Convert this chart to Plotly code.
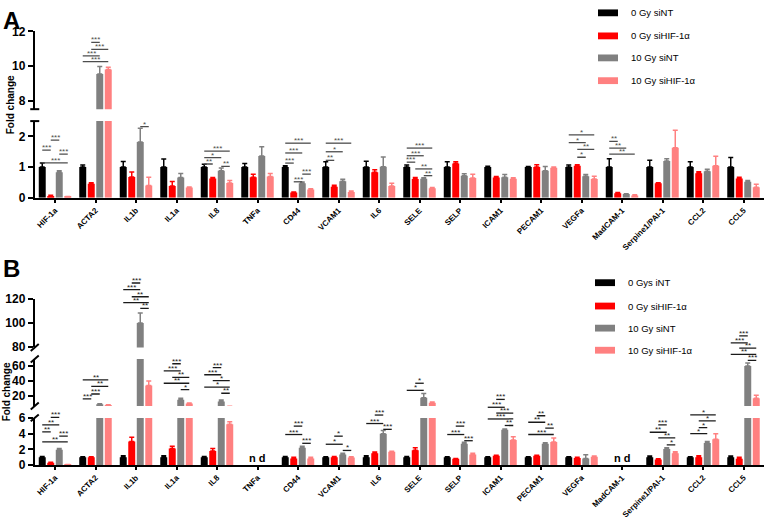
import plotly.graph_objects as go

# ---------------- data ----------------
categories = ["HIF-1a", "ACTA2", "IL1b", "IL1a", "IL8", "TNFa", "CD44", "VCAM1", "IL6",
              "SELE", "SELP", "ICAM1", "PECAM1", "VEGFa", "MadCAM-1", "Serpine1/PAI-1",
              "CCL2", "CCL5"]
legend_A = ["0 Gy siNT", "0 Gy siHIF-1α", "10 Gy siNT", "10 Gy siHIF-1α"]
legend_B = ["0 Gys iNT", "0 Gy siHIF-1α", "10 Gy siNT", "10 Gy siHIF-1α"]
colors = ["#000000", "#FF0000", "#808080", "#FF8080"]

# Panel A (fold change, mean and upper error)
A_0gy_siNT = [1.0] * 18
A_0gy_siNT_err = [0.13, 0.07, 0.18, 0.26, 0.09, 0.12, 0.04, 0.17, 0.19, 0.07, 0.17, 0.03, 0.02, 0.07, 0.27, 0.22, 0.17, 0.31]
A_0gy_siHIF = [0.06, 0.46, 0.68, 0.38, 0.63, 0.67, 0.17, 0.36, 0.83, 0.61, 1.12, 0.66, 1.0, 1.04, 0.15, 0.47, 0.8, 0.63]
A_0gy_siHIF_err = [0.02, 0.03, 0.16, 0.15, 0.03, 0.1, 0.02, 0.05, 0.08, 0.05, 0.05, 0.03, 0.08, 0.04, 0.02, 0.02, 0.05, 0.04]
A_10gy_siNT = [0.83, 9.53, 1.82, 0.66, 0.88, 1.36, 0.47, 0.54, 1.01, 0.62, 0.72, 0.67, 0.88, 0.7, 0.12, 1.2, 0.86, 0.52]
A_10gy_siNT_err = [0.05, 0.43, 0.45, 0.13, 0.09, 0.3, 0.04, 0.06, 0.32, 0.03, 0.06, 0.09, 0.14, 0.06, 0.01, 0.07, 0.07, 0.04]
A_10gy_siHIF = [0.03, 9.79, 0.4, 0.33, 0.48, 0.69, 0.27, 0.19, 0.38, 0.31, 0.64, 0.62, 0.98, 0.61, 0.07, 1.63, 1.04, 0.34]
A_10gy_siHIF_err = [0.01, 0.13, 0.27, 0.02, 0.08, 0.1, 0.02, 0.03, 0.09, 0.02, 0.13, 0.03, 0.02, 0.09, 0.03, 0.57, 0.31, 0.1]

# Panel B (None = not detected)
B_0gy_siNT = [1.0, 1.0, 1.0, 1.0, 1.0, None, 1.0, 1.0, 1.0, 1.0, 1.0, 1.0, 1.0, 1.0, None, 1.0, 1.0, 1.0]
B_0gy_siNT_err = [0.1, 0.05, 0.2, 0.2, 0.1, 0, 0.08, 0.06, 0.2, 0.1, 0.06, 0.05, 0.05, 0.06, 0, 0.15, 0.05, 0.15]
B_0gy_siHIF = [0.3, 1.0, 3.0, 2.1, 1.8, None, 0.85, 1.0, 1.5, 1.9, 0.8, 1.2, 1.2, 0.9, None, 0.7, 1.0, 0.8]
B_0gy_siHIF_err = [0.07, 0.05, 0.55, 0.3, 0.3, 0, 0.15, 0.1, 0.15, 0.3, 0.05, 0.05, 0.05, 0.1, 0, 0.1, 0.2, 0.2]
B_10gy_siNT = [1.95, 8.0, 100.0, 14.2, 12.0, None, 2.2, 1.35, 4.0, 16.9, 2.7, 4.5, 2.7, 0.85, None, 2.05, 2.8, 60.4]
B_10gy_siNT_err = [0.15, 0.8, 8.5, 2.2, 2.0, 0, 0.2, 0.15, 0.4, 5.8, 0.2, 0.1, 0.15, 0.45, 0, 0.15, 0.2, 4.0]
B_10gy_siHIF = [0.05, 7.0, 33.8, 9.0, 5.2, None, 0.85, 0.95, 1.7, 10.2, 1.35, 3.2, 2.95, 1.05, None, 1.5, 3.3, 16.4]
B_10gy_siHIF_err = [0.02, 0.5, 6.2, 0.8, 0.3, 0, 0.15, 0.1, 0.05, 0.8, 0.15, 0.4, 0.5, 0.1, 0, 0.2, 0.7, 4.0]

nd_categories = ["TNFa", "MadCAM-1"]

# significance brackets: (category index, bar a, bar b, axis segment, y value, label)
sig_A = [
    (0, 0, 1, "A_lo", 1.55, "***"), (0, 1, 2, "A_lo", 1.88, "***"), (0, 2, 3, "A_lo", 1.42, "***"), (0, 0, 3, "A_lo", 1.14, "***"),
    (1, 1, 2, "A_hi", 11.36, "***"), (1, 1, 3, "A_hi", 10.96, "***"), (1, 0, 2, "A_hi", 10.58, "***"), (1, 0, 3, "A_hi", 10.25, "***"),
    (2, 2, 3, "A_lo", 2.32, "*"),
    (4, 0, 3, "A_lo", 1.52, "***"), (4, 0, 2, "A_lo", 1.31, "*"), (4, 0, 1, "A_lo", 1.1, "**"), (4, 2, 3, "A_lo", 1.02, "**"),
    (6, 0, 3, "A_lo", 1.78, "***"), (6, 0, 2, "A_lo", 1.46, "***"), (6, 0, 1, "A_lo", 1.13, "***"), (6, 2, 3, "A_lo", 0.77, "***"), (6, 1, 2, "A_lo", 0.52, "***"),
    (7, 0, 3, "A_lo", 1.78, "***"), (7, 0, 2, "A_lo", 1.5, "*"), (7, 0, 1, "A_lo", 1.22, "**"),
    (9, 0, 3, "A_lo", 1.62, "***"), (9, 0, 2, "A_lo", 1.37, "***"), (9, 0, 1, "A_lo", 1.16, "***"), (9, 1, 3, "A_lo", 0.94, "**"), (9, 2, 3, "A_lo", 0.72, "**"),
    (13, 0, 3, "A_lo", 2.05, "*"), (13, 0, 2, "A_lo", 1.8, "*"), (13, 1, 3, "A_lo", 1.58, "**"), (13, 1, 2, "A_lo", 1.32, "*"),
    (14, 0, 1, "A_lo", 1.84, "**"), (14, 0, 2, "A_lo", 1.62, "**"), (14, 0, 3, "A_lo", 1.42, "**"),
]
sig_B = [
    (0, 1, 2, "B_lo", 6.07, "***"), (0, 0, 2, "B_lo", 5.13, "**"), (0, 0, 1, "B_lo", 4.22, "**"), (0, 2, 3, "B_lo", 3.68, "***"), (0, 0, 3, "B_lo", 2.94, "**"),
    (1, 0, 3, "B_mid", 41.3, "**"), (1, 1, 3, "B_mid", 32.4, "**"), (1, 1, 2, "B_mid", 22.1, "***"), (1, 0, 1, "B_mid", 15.5, "***"),
    (2, 1, 2, "B_hi", 133.6, "***"), (2, 0, 2, "B_hi", 128.1, "***"), (2, 1, 3, "B_hi", 122.1, "**"), (2, 0, 3, "B_hi", 117.2, "**"), (2, 2, 3, "B_hi", 112.3, "**"),
    (3, 1, 2, "B_mid", 63.5, "***"), (3, 0, 2, "B_mid", 53.7, "***"), (3, 1, 3, "B_mid", 44.8, "**"), (3, 0, 3, "B_mid", 36.8, "**"), (3, 2, 3, "B_mid", 28.0, "*"),
    (4, 1, 2, "B_mid", 58.1, "***"), (4, 0, 2, "B_mid", 48.4, "***"), (4, 1, 3, "B_mid", 40.4, "*"), (4, 0, 3, "B_mid", 31.5, "*"), (4, 2, 3, "B_mid", 23.1, "**"),
    (6, 1, 2, "B_lo", 4.96, "***"), (6, 0, 2, "B_lo", 3.89, "***"), (6, 2, 3, "B_lo", 2.77, "***"),
    (7, 1, 2, "B_lo", 3.68, "*"), (7, 0, 2, "B_lo", 2.65, "*"), (7, 2, 3, "B_lo", 1.86, "*"),
    (8, 1, 2, "B_lo", 6.37, "***"), (8, 0, 2, "B_lo", 5.29, "***"), (8, 2, 3, "B_lo", 4.55, "***"),
    (9, 1, 2, "B_mid", 36.8, "*"), (9, 0, 2, "B_mid", 27.1, "*"),
    (10, 1, 2, "B_lo", 4.96, "***"), (10, 0, 2, "B_lo", 3.89, "***"), (10, 2, 3, "B_lo", 3.1, "***"),
    (11, 1, 2, "B_mid", 14.7, "***"), (11, 0, 2, "B_lo", 7.36, "***"), (11, 1, 3, "B_lo", 6.62, "***"), (11, 0, 3, "B_lo", 5.87, "***"), (11, 2, 3, "B_lo", 5.04, "**"),
    (12, 1, 2, "B_lo", 6.28, "**"), (12, 0, 2, "B_lo", 5.45, "**"), (12, 2, 3, "B_lo", 4.71, "**"), (12, 0, 3, "B_lo", 3.89, "***"),
    (15, 1, 2, "B_lo", 5.13, "***"), (15, 0, 2, "B_lo", 4.18, "**"), (15, 1, 3, "B_lo", 3.47, "**"), (15, 2, 3, "B_lo", 2.57, "*"),
    (16, 0, 3, "B_lo", 6.4, "*"), (16, 1, 3, "B_lo", 5.62, "*"), (16, 1, 2, "B_lo", 4.76, "*"), (16, 0, 2, "B_lo", 4.01, "*"),
    (17, 1, 2, "B_hi", 89.3, "***"), (17, 0, 2, "B_hi", 83.3, "***"), (17, 1, 3, "B_mid", 84.8, "**"), (17, 0, 3, "B_mid", 76.4, "**"), (17, 2, 3, "B_mid", 68.0, "***"),
]

# ---------------- layout constants ----------------
W, H = 768, 521
FONT = "Arial, Liberation Sans, sans-serif"
BARGAP, GROUPGAP = 0.16, 0.18
X_DOMAIN = [34.75 / W, 763.75 / W]

def pdom(top_px, bot_px):
    return [1 - bot_px / H, 1 - top_px / H]

SEG = {
    "A_lo": dict(ax="yaxis", ref="y", anchor="x", range=[0, 2.5], domain=pdom(117.25, 196), ticks=[0, 1, 2]),
    "A_hi": dict(ax="yaxis2", ref="y2", anchor="x", range=[7.5, 12], domain=pdom(25, 105), ticks=[8, 10, 12]),
    "B_lo": dict(ax="yaxis3", ref="y3", anchor="x2", range=[0, 6], domain=pdom(422.3, 470.7), ticks=[0, 2, 4, 6]),
    "B_mid": dict(ax="yaxis4", ref="y4", anchor="x2", range=[5.7, 70], domain=pdom(361.7, 410), ticks=[20, 40, 60]),
    "B_hi": dict(ax="yaxis5", ref="y5", anchor="x2", range=[79.5, 120], domain=pdom(300.3, 349.9), ticks=[80, 100, 120]),
}

def seg_to_paper(seg, v):
    s = SEG[seg]
    r0, r1 = s["range"]
    d0, d1 = s["domain"]
    return d0 + (v - r0) / (r1 - r0) * (d1 - d0)

def bar_offset(j):
    gw = 1 - BARGAP
    return -gw / 2 + gw / 4 * (j + 0.5)

fig = go.Figure()

A_series = [(A_0gy_siNT, A_0gy_siNT_err), (A_0gy_siHIF, A_0gy_siHIF_err),
            (A_10gy_siNT, A_10gy_siNT_err), (A_10gy_siHIF, A_10gy_siHIF_err)]
B_series = [(B_0gy_siNT, B_0gy_siNT_err), (B_0gy_siHIF, B_0gy_siHIF_err),
            (B_10gy_siNT, B_10gy_siNT_err), (B_10gy_siHIF, B_10gy_siHIF_err)]

for segs, xref, series, names in [(["A_lo", "A_hi"], "x", A_series, legend_A),
                                  (["B_lo", "B_mid", "B_hi"], "x2", B_series, legend_B)]:
    for seg in segs:
        for k, (vals, errs) in enumerate(series):
            fig.add_trace(go.Bar(
                x=categories, y=vals, name=names[k], xaxis=xref, yaxis=SEG[seg]["ref"],
                marker=dict(color=colors[k], line=dict(width=0)),
                error_y=dict(type="data", array=errs, arrayminus=[0] * len(errs), symmetric=False,
                             color=colors[k], thickness=1.5, width=2.5),
                showlegend=False, hoverinfo="skip"))

axis_common = dict(showline=True, linewidth=2, linecolor="black", showgrid=False, zeroline=False,
                   ticks="outside", ticklen=5, tickwidth=2, tickcolor="black",
                   tickfont=dict(family=FONT, size=12, color="black", weight="bold"))
for seg, s in SEG.items():
    fig.update_layout({s["ax"]: dict(domain=s["domain"], anchor=s["anchor"], range=s["range"],
                                     tickmode="array", tickvals=s["ticks"], **axis_common)})

xcommon = dict(type="category", range=[-0.5, len(categories) - 0.5], domain=X_DOMAIN,
               showline=True, linewidth=2, linecolor="black", showgrid=False, zeroline=False,
               ticks="outside", ticklen=3, tickwidth=1.5, tickcolor="black", tickangle=-45,
               tickfont=dict(family=FONT, size=8, color="black", weight="bold"))
fig.update_layout(xaxis=dict(anchor="y", **xcommon), xaxis2=dict(anchor="y3", **xcommon))

shapes, annotations = [], []

# significance brackets
for sigs, col in [(sig_A, "#4d4d4d"), (sig_B, "#1a1a1a")]:
    for (ci, a, b, seg, yv, lab) in sigs:
        xref = "x" if seg.startswith("A") else "x2"
        x0 = ci + bar_offset(a)
        x1 = ci + bar_offset(b)
        yp = seg_to_paper(seg, yv)
        shapes.append(dict(type="line", xref=xref, yref="paper", x0=x0, x1=x1, y0=yp, y1=yp,
                           line=dict(color=col, width=1.3)))
        annotations.append(dict(xref=xref, yref="paper", x=(x0 + x1) / 2, y=yp, text=lab,
                                showarrow=False, yanchor="bottom", yshift=-4,
                                font=dict(family=FONT, size=8, color=col)))

# axis break marks
ax_px = X_DOMAIN[0] * W
def px2x(p):
    return p / W
for seg, end in [("A_lo", 1), ("A_hi", 0)]:
    yp = SEG[seg]["domain"][end]
    shapes.append(dict(type="line", xref="paper", yref="paper", x0=px2x(ax_px - 4.5), x1=px2x(ax_px + 4.5),
                       y0=yp, y1=yp, line=dict(color="black", width=2)))
for seg, end in [("B_lo", 1), ("B_mid", 0), ("B_mid", 1), ("B_hi", 0)]:
    yp = SEG[seg]["domain"][end]
    shapes.append(dict(type="line", xref="paper", yref="paper", x0=px2x(ax_px - 4), x1=px2x(ax_px + 4),
                       y0=yp - 3.5 / H, y1=yp + 3.5 / H, line=dict(color="black", width=2)))

# legends
for names, sx, tx, ys in [(legend_A, 598, 629, [6, 29.7, 52.3, 75.7]),
                          (legend_B, 595, 625.7, [283.3, 307.3, 330, 352.7])]:
    for k, (nm, yc) in enumerate(zip(names, ys)):
        shapes.append(dict(type="rect", xref="paper", yref="paper", x0=sx / W, x1=(sx + 20) / W,
                           y0=1 - (yc + 3.5) / H, y1=1 - (yc - 3.5) / H,
                           fillcolor=colors[k], line=dict(width=0)))
        annotations.append(dict(xref="paper", yref="paper", x=tx / W, y=1 - yc / H, text=nm,
                                showarrow=False, xanchor="left", yanchor="middle",
                                font=dict(family=FONT, size=9.5, color="black")))

# panel letters and axis titles
for letter, yc in [("A", 14), ("B", 268.5)]:
    annotations.append(dict(xref="paper", yref="paper", x=0.5 / W, y=1 - yc / H, text="<b>" + letter + "</b>",
                            showarrow=False, xanchor="left", yanchor="middle",
                            font=dict(family=FONT, size=24, color="black")))
for yc, xc in [(101, 10), (396, 6)]:
    annotations.append(dict(xref="paper", yref="paper", x=xc / W, y=1 - yc / H, text="<b>Fold change</b>",
                            showarrow=False, textangle=-90, xanchor="center", yanchor="middle",
                            font=dict(family=FONT, size=10, color="black")))

# not detected labels
for cat in nd_categories:
    annotations.append(dict(xref="x2", yref="paper", x=categories.index(cat), y=seg_to_paper("B_lo", 0.95),
                            text="<b>n d</b>", showarrow=False, yanchor="middle",
                            font=dict(family=FONT, size=11, color="black")))

fig.update_layout(width=W, height=H, margin=dict(l=0, r=0, t=0, b=0),
                  paper_bgcolor="white", plot_bgcolor="rgba(0,0,0,0)",
                  barmode="group", bargap=BARGAP, bargroupgap=GROUPGAP, showlegend=False,
                  font=dict(family=FONT, color="black"),
                  shapes=shapes, annotations=annotations)

fig.write_html("out.html", config={"displayModeBar": False},
               post_script="document.body.style.margin='0';document.body.style.padding='0';"
                           "document.documentElement.style.overflow='hidden';")
